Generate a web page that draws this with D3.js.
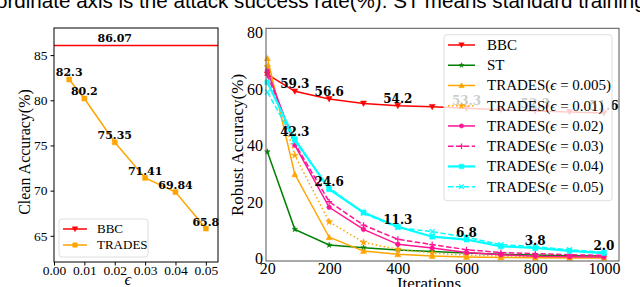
<!DOCTYPE html>
<html>
<head>
<meta charset="utf-8">
<script src="https://cdn.jsdelivr.net/npm/d3@7"></script>
<style>
  body { margin: 0; background: #fff; }
  svg { display: block; }
  text { font-family: 'Liberation Serif', 'Times New Roman', serif; }
  text.val { font-family: 'DejaVu Serif', serif; font-weight: bold; }
  text.cap { font-family: 'Liberation Sans', Arial, sans-serif; }
</style>
</head>
<body>
<svg id="chart" width="640" height="287"></svg>
<script>
// ---- data: clean accuracy vs epsilon ----
const epsilons = [0.005, 0.01, 0.02, 0.03, 0.04, 0.05];
const cleanTrades = [82.3, 80.2, 75.35, 71.41, 69.84, 65.8];
const cleanBBC = 86.07;
const cleanXTicks = [0, 0.01, 0.02, 0.03, 0.04, 0.05];
const cleanYTicks = [65, 70, 75, 80, 85];

// ---- data: robust accuracy vs attack iterations ----
const iterations = [20, 100, 200, 300, 400, 500, 600, 700, 800, 900, 1000];
const robustBBC = [65.3, 59.3, 56.6, 55.0, 54.2, 53.8, 53.3, 52.8, 52.3, 52.0, 51.6];
const robustST = [37.9, 10.4, 4.85, 3.9, 3.1, 2.6, 2.0, 1.6, 1.3, 1.1, 1.0];
const robustT005 = [71.0, 29.9, 7.6, 2.7, 1.55, 0.95, 0.6, 0.45, 0.35, 0.3, 0.3];
const robustT01 = [68.0, 36.6, 13.1, 5.8, 3.3, 2.0, 1.3, 0.9, 0.7, 0.55, 0.45];
const robustT02 = [66.5, 40.2, 18.2, 10.4, 5.1, 3.8, 2.2, 1.4, 0.9, 0.7, 0.6];
const robustT03 = [65.0, 40.8, 20.2, 11.9, 6.9, 5.0, 3.2, 2.2, 1.8, 1.4, 1.2];
const robustT04 = [62.5, 42.3, 24.6, 16.4, 11.3, 7.8, 6.8, 4.4, 3.8, 2.8, 2.0];
const robustT05 = [59.0, 41.5, 25.2, 16.1, 11.0, 9.6, 7.6, 5.0, 4.3, 3.2, 2.3];
const labelIters = [100, 200, 400, 600, 800, 1000];
const robustXTicks = [20, 200, 400, 600, 800, 1000];
const robustYTicks = [0, 20, 40, 60, 80];

const svg = d3.select('#chart');

// marker shapes, centred on 0,0
function markerPath (type, s) {
    const h = s / 2;
    if (type === 'tri-down') return `M${-h},${-h * 0.8}L${h},${-h * 0.8}L0,${h}Z`;
    if (type === 'tri-up') return `M${-h},${h * 0.8}L${h},${h * 0.8}L0,${-h}Z`;
    if (type === 'square') return `M${-h},${-h}H${h}V${h}H${-h}Z`;
    if (type === 'circle') return d3.symbol(d3.symbolCircle, s * s * 0.7)();
    if (type === 'star') return d3.symbol(d3.symbolStar, s * s * 0.6)();
    if (type === 'plus') return `M${-h},0H${h}M0,${-h}V${h}`;
    if (type === 'x') return `M${-h},${-h}L${h},${h}M${-h},${h}L${h},${-h}`;
    return '';
}
const strokeOnly = t => t === 'plus' || t === 'x';

function drawMarker (g, type, s, color, x, y) {
    g.append('path')
        .attr('d', markerPath(type, s))
        .attr('transform', `translate(${x},${y})`)
        .attr('fill', strokeOnly(type) ? 'none' : color)
        .attr('stroke', color)
        .attr('stroke-width', strokeOnly(type) ? 1.2 : 0.5);
}

function frame (x0, x1, y0, y1, color) {
    svg.append('rect')
        .attr('x', x0).attr('y', y0)
        .attr('width', x1 - x0).attr('height', y1 - y0)
        .attr('fill', 'none').attr('stroke', color).attr('stroke-width', 1);
}

function styleTicks (g, size) {
    g.select('.domain').remove();
    g.selectAll('line').attr('stroke', '#000');
    g.selectAll('text').style('font-size', size + 'px').attr('fill', '#000');
}

function legend (entries, box, rowY, handle, textX, fontSize) {
    const g = svg.append('g');
    g.append('rect')
        .attr('x', box[0]).attr('y', box[1])
        .attr('width', box[2] - box[0]).attr('height', box[3] - box[1])
        .attr('rx', 3)
        .attr('fill', '#fff').attr('fill-opacity', 0.8)
        .attr('stroke', '#d6d6d6').attr('stroke-width', 0.8);
    entries.forEach((e, i) => {
        const y = rowY(i);
        g.append('line')
            .attr('x1', handle[0]).attr('x2', handle[1])
            .attr('y1', y).attr('y2', y)
            .attr('stroke', e.color).attr('stroke-width', e.width || 1.5)
            .attr('stroke-dasharray', e.dash || null);
        drawMarker(g, e.marker, e.size * 0.9, e.color, (handle[0] + handle[1]) / 2, y);
        const t = g.append('text')
            .attr('x', textX).attr('y', y + fontSize * 0.33)
            .style('font-size', fontSize + 'px');
        if (e.eps) {
            t.append('tspan').text('TRADES(');
            t.append('tspan').attr('font-style', 'italic').text('ϵ');
            t.append('tspan').text(' = ' + e.eps + ')');
        } else {
            t.text(e.name);
        }
    });
}

// caption line cut at the top of the figure
svg.append('text')
    .attr('class', 'cap')
    .attr('x', -4).attr('y', 8)
    .style('font-size', '20.6px')
    .text('ordinate axis is the attack success rate(%). ST means standard training');

// ================= left: clean accuracy =================
const xL = d3.scaleLinear().domain([0, 0.054]).range([54, 218]);
const yL = d3.scaleLinear().domain([62.1, 88]).range([262, 28]);

const left = svg.append('g');

left.append('line')
    .attr('x1', xL(xL.domain()[0])).attr('x2', xL(xL.domain()[1]))
    .attr('y1', yL(cleanBBC)).attr('y2', yL(cleanBBC))
    .attr('stroke', '#ff0000').attr('stroke-width', 1.5);

left.append('path')
    .datum(epsilons.map((e, i) => [e, cleanTrades[i]]))
    .attr('d', d3.line().x(d => xL(d[0])).y(d => yL(d[1])))
    .attr('fill', 'none').attr('stroke', '#ffa500').attr('stroke-width', 1.5);
epsilons.forEach((e, i) => drawMarker(left, 'square', 5, '#ffa500', xL(e), yL(cleanTrades[i])));

left.selectAll('.cl')
    .data(epsilons)
    .enter()
    .append('text')
    .attr('class', 'val')
    .attr('x', d => xL(d))
    .attr('y', (d, i) => yL(cleanTrades[i]) - 3)
    .attr('text-anchor', 'middle')
    .style('font-size', '11px')
    .text((d, i) => String(cleanTrades[i]));

left.append('text')
    .attr('class', 'val')
    .attr('x', xL(0.02)).attr('y', yL(cleanBBC) - 3)
    .attr('text-anchor', 'middle').style('font-size', '11px')
    .text(String(cleanBBC));

left.append('g')
    .attr('transform', 'translate(0,262)')
    .call(d3.axisBottom(xL).tickValues(cleanXTicks).tickFormat(d3.format('.2f')).tickSize(3.5).tickPadding(0))
    .call(g => styleTicks(g, 13.5));

left.append('g')
    .attr('transform', 'translate(54,0)')
    .call(d3.axisLeft(yL).tickValues(cleanYTicks).tickSize(3.5).tickPadding(3))
    .call(g => styleTicks(g, 13.5));

frame(54, 218, 28, 262, '#000');

left.append('text')
    .attr('transform', 'translate(30,152) rotate(-90)')
    .attr('text-anchor', 'middle').style('font-size', '16px')
    .text('Clean Accuracy(%)');

left.append('text')
    .attr('x', 128).attr('y', 285)
    .attr('text-anchor', 'middle').style('font-size', '17px').attr('font-style', 'italic')
    .text('ϵ');

legend([
    { name: 'BBC', color: '#ff0000', marker: 'tri-down', size: 6 },
    { name: 'TRADES', color: '#ffa500', marker: 'square', size: 5 }
], [59, 219, 148, 257], i => 229 + i * 16, [63, 87], 97, 13);

// ================= right: robust accuracy =================
const xR = d3.scaleLinear().domain([16, 1044]).range([266, 619]);
const yR = d3.scaleLinear().domain([-0.8, 81.6]).range([261, 28.3]);

const series = [
    { name: 'BBC', values: robustBBC, color: '#ff0000', marker: 'tri-down', size: 6 },
    { name: 'ST', values: robustST, color: '#008000', marker: 'star', size: 4 },
    { eps: '0.005', values: robustT005, color: '#ffa500', marker: 'tri-up', size: 6 },
    { eps: '0.01', values: robustT01, color: '#ffa500', marker: 'star', size: 5, dash: '1.5,2.5' },
    { eps: '0.02', values: robustT02, color: '#ff1493', marker: 'circle', size: 5 },
    { eps: '0.03', values: robustT03, color: '#ff1493', marker: 'plus', size: 6, dash: '5.5,2.4' },
    { eps: '0.04', values: robustT04, color: '#00ffff', marker: 'square', size: 5, width: 2.2 },
    { eps: '0.05', values: robustT05, color: '#00ffff', marker: 'x', size: 5, dash: '5.5,2.4' }
];

const right = svg.append('g');
const lineR = d3.line().x(d => xR(d[0])).y(d => yR(d[1]));

series.forEach(s => {
    const pts = iterations.map((it, i) => [it, s.values[i]]);
    right.append('path')
        .datum(pts)
        .attr('d', lineR)
        .attr('fill', 'none')
        .attr('stroke', s.color)
        .attr('stroke-width', s.width || 1.5)
        .attr('stroke-dasharray', s.dash || null);
    pts.forEach(p => drawMarker(right, s.marker, s.size, s.color, xR(p[0]), yR(p[1])));
});

// value labels for BBC and TRADES(eps=0.04)
[robustBBC, robustT04].forEach(vals => {
    right.selectAll(null)
        .data(labelIters)
        .enter()
        .append('text')
        .attr('class', 'val')
        .attr('x', d => xR(d))
        .attr('y', d => yR(vals[iterations.indexOf(d)]) - 3)
        .attr('text-anchor', 'middle')
        .style('font-size', '12px')
        .text(d => vals[iterations.indexOf(d)].toFixed(1));
});

right.append('g')
    .attr('transform', 'translate(0,261)')
    .call(d3.axisBottom(xR).tickValues(robustXTicks).tickFormat(d3.format('d')).tickSize(0).tickPadding(1.5))
    .call(g => styleTicks(g, 16));

right.append('g')
    .attr('transform', 'translate(266,0)')
    .call(d3.axisLeft(yR).tickValues(robustYTicks).tickSize(0).tickPadding(3))
    .call(g => styleTicks(g, 16));

frame(266, 619, 28.3, 261, '#555');

right.append('text')
    .attr('transform', 'translate(243,145) rotate(-90)')
    .attr('text-anchor', 'middle').style('font-size', '17px')
    .text('Robust Accuracy(%)');

right.append('text')
    .attr('x', 429).attr('y', 289)
    .attr('text-anchor', 'middle').style('font-size', '17px')
    .text('Iterations');

legend(series, [444, 34.7, 612, 200.7], i => 45 + i * 20.24, [448, 475], 487, 15);
</script>
</body>
</html>
